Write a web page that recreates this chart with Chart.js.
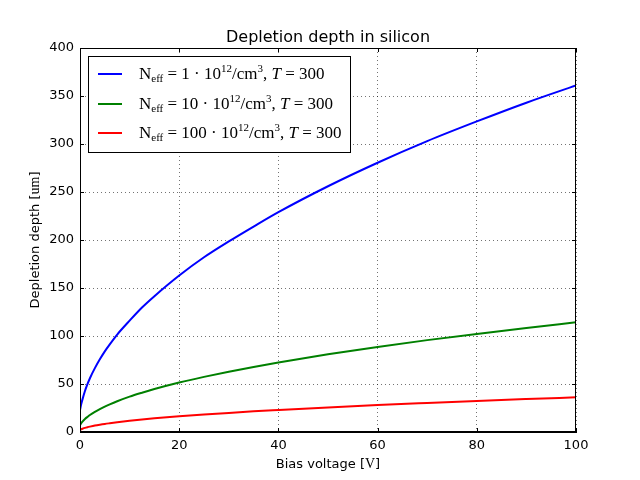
<!DOCTYPE html>
<html>
<head>
<meta charset="utf-8">
<script src="https://cdn.jsdelivr.net/npm/chart.js@4"></script>
<style>
  html, body { margin: 0; padding: 0; background: #fff; }
  #wrap { width: 640px; height: 480px; }
</style>
</head>
<body>
<div id="wrap"><canvas id="myChart" width="640" height="480"></canvas></div>
<script>
// data
const voltages = [0, 0.25, 0.5, 1, 1.5, 2, 3, 4, 5, 6, 7.5, 10, 12.5, 15, 20, 25, 30, 35, 40, 50, 60, 70, 80, 90, 100];
const depthN1 = [22.8, 29.1, 34, 42.7, 49.8, 56, 66.5, 75.7, 84, 91.3, 101.5, 116, 129.7, 141.5, 163, 182, 198.5, 214, 229, 256, 280.5, 303, 323.5, 343, 361];
const depthN10 = [7.2, 9.2, 10.8, 13.5, 15.7, 17.7, 21.0, 23.9, 26.5, 28.8, 32.0, 36.8, 40.9, 44.7, 51.5, 57.4, 62.8, 67.8, 72.5, 81.0, 88.6, 95.7, 102.2, 108.4, 114.2];
const depthN100 = [2.3, 2.9, 3.4, 4.3, 5.0, 5.6, 6.7, 7.6, 8.4, 9.1, 10.1, 11.6, 13.0, 14.2, 16.3, 18.2, 19.9, 21.5, 22.9, 25.6, 28.1, 30.3, 32.4, 34.3, 36.1];
const densities = ["1", "10", "100"];
const temperature = "300";
const xTicks = [0, 20, 40, 60, 80, 100];
const yTicks = [0, 50, 100, 150, 200, 250, 300, 350, 400];

const colors = ["#0000ff", "#008000", "#ff0000"];
const series = [depthN1, depthN10, depthN100];

function points(ys) {
  return voltages.map((v, i) => ({ x: v, y: ys[i] }));
}

const serif = "'Liberation Serif', 'DejaVu Serif', serif";
const sans = "'DejaVu Sans', sans-serif";

// frame, inward ticks, title, axis titles, legend
const decorations = {
  id: "decorations",
  afterDraw(chart) {
    const ctx = chart.ctx;
    const a = chart.chartArea;
    const xs = chart.scales.x, ys = chart.scales.y;
    ctx.save();
    ctx.strokeStyle = "#000";
    ctx.lineWidth = 1;
    ctx.strokeRect(a.left + 0.5, a.top + 0.5, a.right - a.left - 1, a.bottom - a.top - 1);
    ctx.beginPath();
    xTicks.forEach(t => {
      const px = Math.round(xs.getPixelForValue(t)) + 0.5;
      ctx.moveTo(px, a.bottom); ctx.lineTo(px, a.bottom - 4);
      ctx.moveTo(px, a.top); ctx.lineTo(px, a.top + 4);
    });
    yTicks.forEach(t => {
      const py = Math.round(ys.getPixelForValue(t)) + 0.5;
      ctx.moveTo(a.left, py); ctx.lineTo(a.left + 4, py);
      ctx.moveTo(a.right, py); ctx.lineTo(a.right - 4, py);
    });
    ctx.stroke();

    // title
    ctx.fillStyle = "#000";
    ctx.textAlign = "center";
    ctx.textBaseline = "alphabetic";
    ctx.font = "16px " + sans;
    ctx.fillText("Depletion depth in silicon", (a.left + a.right) / 2, 42);

    // x axis title: sans text + serif unit
    ctx.textAlign = "left";
    ctx.font = "13px " + sans;
    const xa = "Bias voltage [";
    ctx.font = "14px " + serif;
    const wV = ctx.measureText("V").width;
    ctx.font = "13px " + sans;
    const wA = ctx.measureText(xa).width, wB = ctx.measureText("]").width;
    let x0 = (a.left + a.right) / 2 - (wA + wV + wB) / 2;
    const yX = 468;
    ctx.fillText(xa, x0, yX);
    ctx.font = "14px " + serif;
    ctx.fillText("V", x0 + wA, yX);
    ctx.font = "13px " + sans;
    ctx.fillText("]", x0 + wA + wV, yX);

    // y axis title rotated
    ctx.save();
    ctx.translate(39, (a.top + a.bottom) / 2);
    ctx.rotate(-Math.PI / 2);
    const ya = "Depletion depth [";
    const wYa = ctx.measureText(ya).width;
    ctx.font = "14px " + serif;
    const wUm = ctx.measureText("um").width;
    ctx.font = "13px " + sans;
    let y0 = -(wYa + wUm + wB) / 2;
    ctx.fillText(ya, y0, 0);
    ctx.font = "14px " + serif;
    ctx.fillText("um", y0 + wYa, 0);
    ctx.font = "13px " + sans;
    ctx.fillText("]", y0 + wYa + wUm, 0);
    ctx.restore();

    // legend
    const lx = a.left + 8, ly = a.top + 8, lw = 262, lh = 96;
    ctx.fillStyle = "#fff";
    ctx.fillRect(lx, ly, lw, lh);
    ctx.strokeStyle = "#000";
    ctx.strokeRect(lx + 0.5, ly + 0.5, lw, lh);
    const rows = [a.top + 26, a.top + 56, a.top + 85];
    densities.forEach((n, i) => {
      const ry = rows[i];
      ctx.strokeStyle = colors[i];
      ctx.lineWidth = 2;
      ctx.beginPath();
      ctx.moveTo(lx + 10, ry); ctx.lineTo(lx + 34, ry);
      ctx.stroke();
      const base = ry + 5;
      let cx = lx + 51;
      ctx.fillStyle = "#000";
      const parts = [
        ["N", 17, 0, ""],
        ["eff", 11, 3, ""],
        [" = ", 17, 0, ""],
        [n + " \u00b7 10", 17, 0, ""],
        ["12", 11, -7, ""],
        ["/cm", 17, 0, ""],
        ["3", 11, -7, ""],
        [", ", 17, 0, ""],
        ["T", 17, 0, "italic "],
        [" = " + temperature, 17, 0, ""]
      ];
      parts.forEach(p => {
        ctx.font = p[3] + p[1] + "px " + serif;
        ctx.fillText(p[0], cx, base + p[2]);
        cx += ctx.measureText(p[0]).width;
      });
    });
    ctx.restore();
  }
};

const config = {
  type: "line",
  data: {
    datasets: series.map((s, i) => ({
      label: "N_eff = " + densities[i] + "e12/cm3, T = " + temperature,
      data: points(s),
      borderColor: colors[i],
      backgroundColor: colors[i],
      borderWidth: 2,
      pointRadius: 0,
      fill: false,
      cubicInterpolationMode: "monotone"
    }))
  },
  options: {
    responsive: false,
    animation: false,
    layout: { padding: { left: 0, right: 64, top: 48, bottom: 0 } },
    plugins: { legend: { display: false }, title: { display: false }, tooltip: { enabled: false } },
    scales: {
      x: {
        type: "linear",
        min: 0, max: 100,
        afterFit(scale) { scale.height = 48; },
        afterBuildTicks(scale) { scale.ticks = xTicks.map(v => ({ value: v })); },
        ticks: { color: "#000", font: { family: sans, size: 13 }, padding: 6, maxRotation: 0 },
        grid: { color: "rgba(0,0,0,0.55)", drawTicks: false, tickLength: 0 },
        border: { display: true, color: "#000", dash: [1, 3] }
      },
      y: {
        min: 0, max: 400,
        afterFit(scale) { scale.width = 80; },
        afterBuildTicks(scale) { scale.ticks = yTicks.map(v => ({ value: v })); },
        ticks: { color: "#000", font: { family: sans, size: 13 }, padding: 6 },
        grid: { color: "rgba(0,0,0,0.55)", drawTicks: false, tickLength: 0 },
        border: { display: true, color: "#000", dash: [1, 3] }
      }
    }
  },
  plugins: [decorations]
};

const myChart = new Chart(document.getElementById("myChart"), config);
</script>
</body>
</html>
